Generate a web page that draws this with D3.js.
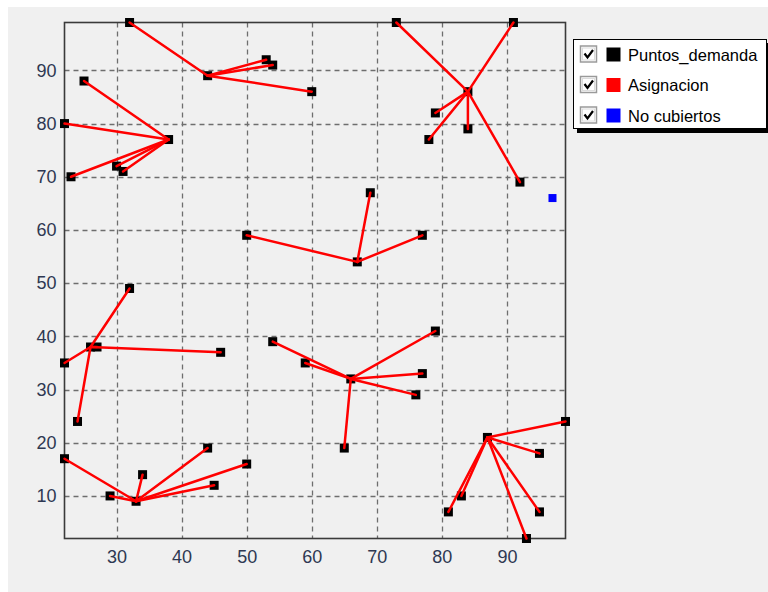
<!DOCTYPE html>
<html>
<head>
<meta charset="utf-8">
<script src="https://cdn.jsdelivr.net/npm/d3@7"></script>
<style>
  html, body { margin: 0; padding: 0; background: #ffffff; }
  svg { display: block; }
</style>
</head>
<body>
<svg id="chart" width="768" height="592"></svg>
<script>
// ---- Data ----
const facilityX = [44, 38, 67, 84, 26, 33, 66, 87];
const facilityY = [89, 77, 54, 86, 38, 9, 32, 21];

const demandX = [32, 53, 54, 60, 44,
                 25, 22, 23, 30, 31, 38,
                 50, 69, 77, 67,
                 73, 91, 79, 78, 84, 92, 84,
                 27, 32, 22, 24, 46, 26,
                 22, 29, 34, 44, 45, 50, 33,
                 54, 59, 79, 77, 76, 65, 66,
                 99, 95, 95, 93, 83, 81, 87];
const demandY = [99, 92, 91, 86, 89,
                 88, 80, 70, 72, 71, 77,
                 59, 67, 59, 54,
                 99, 99, 82, 77, 79, 69, 86,
                 38, 49, 35, 24, 37, 38,
                 17, 10, 14, 19, 12, 16, 9,
                 39, 35, 41, 33, 29, 19, 32,
                 24, 18, 7, 2, 10, 7, 21];
const assignedTo = [0, 0, 0, 0, 0,
                    1, 1, 1, 1, 1, 1,
                    2, 2, 2, 2,
                    3, 3, 3, 3, 3, 3, 3,
                    4, 4, 4, 4, 4, 4,
                    5, 5, 5, 5, 5, 5, 5,
                    6, 6, 6, 6, 6, 6, 6,
                    7, 7, 7, 7, 7, 7, 7];

const uncoveredX = [97];
const uncoveredY = [66];

const xTicks = [30, 40, 50, 60, 70, 80, 90];
const yTicks = [10, 20, 30, 40, 50, 60, 70, 80, 90];
const legendLabels = ["Puntos_demanda", "Asignacion", "No cubiertos"];
const legendColors = ["#000000", "#ff0000", "#0000ff"];

// ---- Layout ----
const svg = d3.select("#chart");
const L = 64.5, R = 565.5, T = 22.5, B = 538.5;

svg.append("rect").attr("x", 8).attr("y", 7).attr("width", 760).attr("height", 585)
  .attr("fill", "#f0f0f0");

const x = d3.scaleLinear().domain([22, 99]).range([L, R]);
const y = d3.scaleLinear().domain([2, 99]).range([B, T]);

// gridlines
const grid = svg.append("g");
grid.selectAll("line.v").data(xTicks).join("line")
  .attr("x1", d => Math.round(x(d)) + 0.5).attr("x2", d => Math.round(x(d)) + 0.5)
  .attr("y1", T).attr("y2", B)
  .attr("stroke", "#6e6e6e").attr("stroke-width", 1.3).attr("stroke-dasharray", "5,4");
grid.selectAll("line.h").data(yTicks).join("line")
  .attr("y1", d => Math.round(y(d)) + 0.5).attr("y2", d => Math.round(y(d)) + 0.5)
  .attr("x1", L).attr("x2", R)
  .attr("stroke", "#6e6e6e").attr("stroke-width", 1.3).attr("stroke-dasharray", "5,4");

// axes (labels only)
const xAxis = d3.axisBottom(x).tickValues(xTicks).tickSize(0).tickPadding(12);
const yAxis = d3.axisLeft(y).tickValues(yTicks).tickSize(0).tickPadding(8);
const gx = svg.append("g").attr("transform", `translate(0,${B})`).call(xAxis);
const gy = svg.append("g").attr("transform", `translate(${L},0)`).call(yAxis);
[gx, gy].forEach(g => {
  g.select(".domain").remove();
  g.selectAll("text").attr("font-family", "'Liberation Sans', Arial, sans-serif")
    .attr("font-size", "18px").attr("fill", "#2e3852");
});

// frame
svg.append("rect").attr("x", L).attr("y", T).attr("width", R - L).attr("height", B - T)
  .attr("fill", "none").attr("stroke", "#3a3a3a").attr("stroke-width", 1.6);

// demand points
const idx = d3.range(demandX.length);
svg.append("g").selectAll("rect").data(idx).join("rect")
  .attr("x", i => x(demandX[i]) - 4.5).attr("y", i => y(demandY[i]) - 4.5)
  .attr("width", 9).attr("height", 9)
  .attr("fill", "#000000");

// assignment lines
svg.append("g").selectAll("line").data(idx).join("line")
  .attr("x1", i => x(facilityX[assignedTo[i]])).attr("y1", i => y(facilityY[assignedTo[i]]))
  .attr("x2", i => x(demandX[i])).attr("y2", i => y(demandY[i]))
  .attr("stroke", "#ff0000").attr("stroke-width", 2.5).attr("stroke-linecap", "round");

// uncovered
svg.append("g").selectAll("rect").data(d3.range(uncoveredX.length)).join("rect")
  .attr("x", i => x(uncoveredX[i]) - 4).attr("y", i => y(uncoveredY[i]) - 4)
  .attr("width", 8).attr("height", 8).attr("fill", "#0000ff");

// legend
const lg = svg.append("g");
lg.append("rect").attr("x", 577).attr("y", 43).attr("width", 194).attr("height", 90).attr("fill", "#000");
lg.append("rect").attr("x", 573.5).attr("y", 39.5).attr("width", 193).attr("height", 89)
  .attr("fill", "#ffffff").attr("stroke", "#000").attr("stroke-width", 1);
const rowY = [54.5, 85, 115.5];
legendLabels.forEach((lab, i) => {
  const cy = rowY[i];
  lg.append("rect").attr("x", 580.5).attr("y", cy - 8.5).attr("width", 16).attr("height", 16)
    .attr("fill", "#ffffff").attr("stroke", "#9a9a9a").attr("stroke-width", 1.5);
  lg.append("rect").attr("x", 582.5).attr("y", cy - 6.5).attr("width", 12).attr("height", 12)
    .attr("fill", "none").attr("stroke", "#dcdcdc").attr("stroke-width", 1);
  lg.append("path").attr("d", `M${584.5},${cy - 1} L${587.5},${cy + 3} L${593},${cy - 4.5}`)
    .attr("fill", "none").attr("stroke", "#000").attr("stroke-width", 2.2);
  lg.append("rect").attr("x", 606.5).attr("y", cy - 7).attr("width", 14).attr("height", 14)
    .attr("fill", legendColors[i]);
  lg.append("text").attr("x", 628).attr("y", cy + 6)
    .attr("font-family", "'Liberation Sans', Arial, sans-serif").attr("font-size", "16.5px")
    .attr("fill", "#000").text(lab);
});
</script>
</body>
</html>
